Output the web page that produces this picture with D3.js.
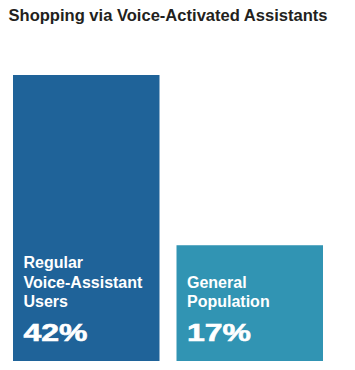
<!DOCTYPE html>
<html>
<head>
<meta charset="utf-8">
<script src="https://cdn.jsdelivr.net/npm/d3@7"></script>
<style>
  html, body { margin: 0; padding: 0; background: #ffffff; }
  svg { display: block; }
</style>
</head>
<body>
<svg id="chart" width="355" height="370"></svg>
<script>
const title = "Shopping via Voice-Activated Assistants";
const categories = ["Regular Voice-Assistant Users", "General Population"];
const labelLines = [["Regular", "Voice-Assistant", "Users"], ["General", "Population"]];
const values = [42, 17];
const valueLabels = ["42%", "17%"];
const colors = ["#1f6399", "#3194b3"];

const svg = d3.select("#chart");
const font = "'Liberation Sans', Arial, Helvetica, sans-serif";

svg.append("text")
  .attr("x", 8.5).attr("y", 20.5)
  .attr("font-family", font).attr("font-weight", "bold")
  .attr("font-size", 16).attr("fill", "#231f20")
  .attr("textLength", 319).attr("lengthAdjust", "spacingAndGlyphs")
  .text(title);

const x = d3.scaleBand().domain(categories).range([13, 323]).paddingInner(0.104).paddingOuter(0);
const y = d3.scaleLinear().domain([0, 42]).range([361, 75]);

const data = categories.map((c, i) => ({ c, v: values[i], lines: labelLines[i], lab: valueLabels[i], col: colors[i] }));

const g = svg.selectAll("g.bar").data(data).join("g").attr("class", "bar");

g.append("rect")
  .attr("x", d => x(d.c))
  .attr("y", d => y(d.v))
  .attr("width", x.bandwidth())
  .attr("height", d => y(0) - y(d.v))
  .attr("fill", d => d.col);

const numBase = y(0) - 20.5;
g.append("text")
  .attr("x", d => x(d.c) + 10.5)
  .attr("y", numBase)
  .attr("font-family", font).attr("font-weight", "bold")
  .attr("font-size", 24).attr("fill", "#ffffff")
  .attr("stroke", "#ffffff").attr("stroke-width", 0.6)
  .attr("textLength", 64).attr("lengthAdjust", "spacingAndGlyphs")
  .text(d => d.lab);

g.each(function(d) {
  const sel = d3.select(this);
  const n = d.lines.length;
  d.lines.forEach((line, j) => {
    sel.append("text")
      .attr("x", x(d.c) + 10.5)
      .attr("y", numBase - 33.5 - (n - 1 - j) * 19.3)
      .attr("font-family", font).attr("font-weight", "bold")
      .attr("font-size", 16).attr("fill", "#ffffff")
      .text(line);
  });
});
</script>
</body>
</html>
